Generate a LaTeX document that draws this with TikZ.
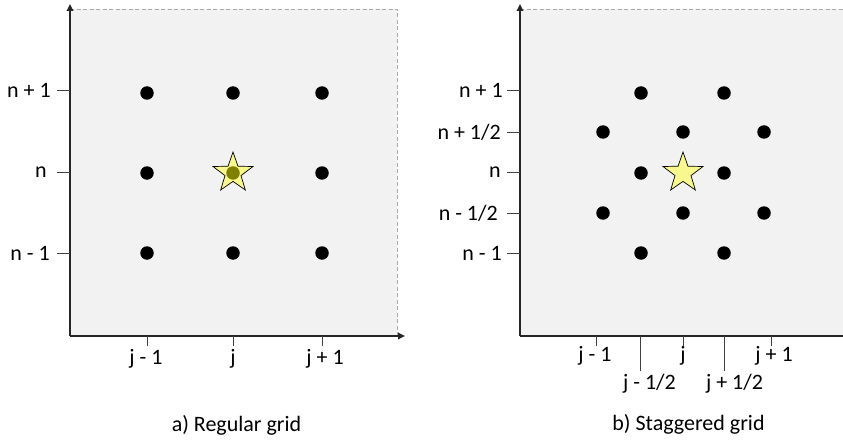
\documentclass[tikz,border=0pt]{standalone}
\usepackage{fontspec}
\setmainfont{Carlito}
\usetikzlibrary{shapes.geometric,arrows.meta}
\definecolor{panelgray}{RGB}{242,242,242}
\definecolor{bordergray}{RGB}{170,170,170}
\definecolor{axiscol}{RGB}{38,38,38}
\definecolor{tickcol}{RGB}{64,64,64}
\definecolor{staryellow}{RGB}{248,248,140}
\definecolor{olivedot}{RGB}{128,128,0}
\begin{document}
\begin{tikzpicture}[x=1pt,y=-1pt,
  panel/.style={fill=panelgray,draw=none},
  border/.style={draw=bordergray,line width=0.9pt,dash pattern=on 4pt off 2.5pt},
  axis/.style={draw=axiscol,line width=1.7pt,-{Triangle[length=7pt,width=6.5pt]}},
  tickline/.style={draw=tickcol,line width=0.9pt},
  dot/.style={circle,fill=black,draw=none,inner sep=0pt,minimum size=13.5pt},
  cdot/.style={circle,fill=olivedot,draw=none,inner sep=0pt,minimum size=13.5pt},
  starnode/.style={star,star points=5,star point ratio=2.5,minimum size=42pt,inner sep=0pt,fill=staryellow,draw=black,line width=0.7pt},
  lab/.style={font=\fontsize{22}{26}\selectfont,inner sep=0pt},
  captext/.style={font=\fontsize{22}{26}\selectfont,inner sep=0pt,anchor=base}
]
\useasboundingbox (0,0) rectangle (843,441);

% ---------------- Left panel: regular grid ----------------
\fill[panel] (70,9) rectangle (397,336);
\draw[border] (70,9) -- (397,9) -- (397,336);
\coordinate (aO) at (70,336);
\coordinate (aY) at (70,4);
\coordinate (aX) at (405,336);
\draw[axis] (aO) -- (aY);
\draw[axis] (aO) -- (aX);

% y ticks
\foreach \nm/\y in {ap/90,an/172,am/253}{
  \coordinate (\nm t1) at (57,\y);
  \coordinate (\nm t2) at (70,\y);
  \draw[tickline] (\nm t1) -- (\nm t2);
}
\node[lab,anchor=east] (lnp1) at (51,90) {n + 1};
\node[lab,anchor=east] (ln) at (47,172) {n};
\node[lab,anchor=east] (lnm1) at (50,253) {n - 1};

% x ticks
\foreach \nm/\x in {ajm/147,aj/233,ajp/322}{
  \coordinate (\nm t1) at (\x,336);
  \coordinate (\nm t2) at (\x,346);
  \draw[tickline] (\nm t1) -- (\nm t2);
}
\node[lab,anchor=base] (ljm1) at (146,364) {j - 1};
\node[lab,anchor=base] (lj) at (233,364) {j};
\node[lab,anchor=base] (ljp1) at (325,364) {j + 1};

% dots
\foreach \x [count=\i] in {147,233,322}{
  \foreach \y [count=\k] in {93,173,253}{
    \ifnum\i=2 \ifnum\k=2 \else \node[dot] (ad\i\k) at (\x,\y) {}; \fi
    \else \node[dot] (ad\i\k) at (\x,\y) {}; \fi
  }
}
\node[starnode] (astar) at (233,173) {};
\node[cdot] (acenter) at (233,173) {};

\node[captext] (capa) at (236.5,431) {a) Regular grid};

% ---------------- Right panel: staggered grid ----------------
\fill[panel] (520,9) rectangle (843,336);
\draw[border] (520,9) -- (843,9);
\coordinate (bO) at (520,336);
\coordinate (bY) at (520,4);
\coordinate (bX) at (843,336);
\draw[axis] (bO) -- (bY);
\draw[draw=axiscol,line width=1.7pt] (bO) -- (bX);

% y ticks
\foreach \nm/\y in {bp/90,bph/132,bn/172,bmh/213,bm/253}{
  \coordinate (\nm t1) at (507,\y);
  \coordinate (\nm t2) at (520,\y);
  \draw[tickline] (\nm t1) -- (\nm t2);
}
\node[lab,anchor=east] (rnp1) at (503,90) {n + 1};
\node[lab,anchor=east] (rnph) at (501,132) {n + 1/2};
\node[lab,anchor=east] (rn) at (501,172) {n};
\node[lab,anchor=east] (rnmh) at (498,213) {n - 1/2};
\node[lab,anchor=east] (rnm1) at (502,253) {n - 1};

% x ticks
\foreach \nm/\x/\len in {bjm/596/346,bjmh/640/371,bj/683/346,bjph/724/371,bjp/771/346}{
  \coordinate (\nm t1) at (\x,336);
  \coordinate (\nm t2) at (\x,\len);
  \draw[tickline] (\nm t1) -- (\nm t2);
}
\node[lab,anchor=base] (rjm1) at (595,361) {j - 1};
\node[lab,anchor=base] (rj) at (683,361) {j};
\node[lab,anchor=base] (rjp1) at (774,361) {j + 1};
\node[lab,anchor=base] (rjmh) at (649.5,389) {j - 1/2};
\node[lab,anchor=base] (rjph) at (734.5,389) {j + 1/2};

% dots
\foreach \x/\y [count=\i] in {641/93,724/93,
  603/132,683/132,764/132,
  641/173,724/173,
  603/213,683/213,764/213,
  641/253,724/253}{
  \node[dot] (bd\i) at (\x,\y) {};
}
\node[starnode] (bstar) at (683,173) {};

\node[captext] (capb) at (688.5,430) {b) Staggered grid};
\end{tikzpicture}
\end{document}
